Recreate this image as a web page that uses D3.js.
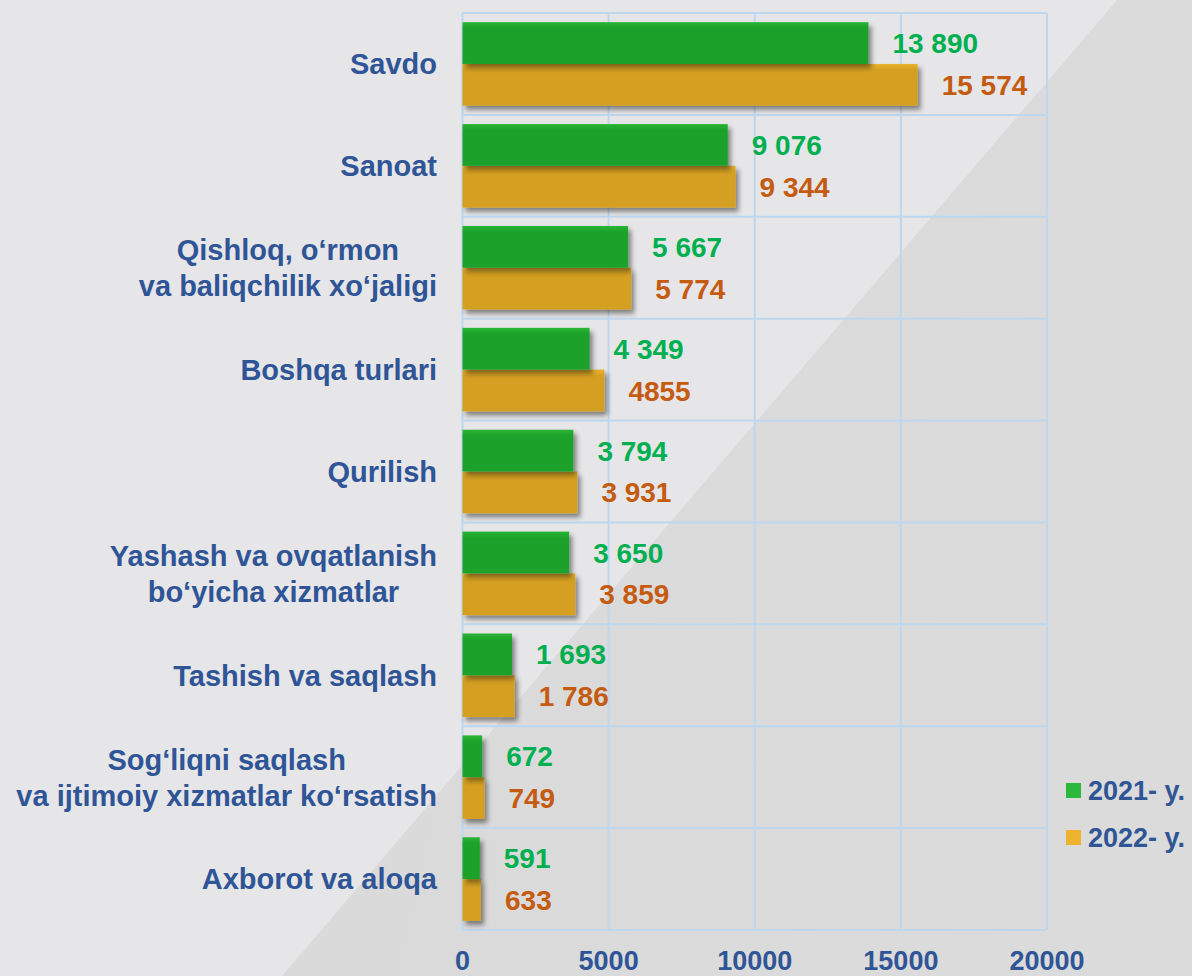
<!DOCTYPE html>
<html>
<head>
<meta charset="utf-8">
<script src="https://cdn.jsdelivr.net/npm/d3@7"></script>
<style>
  html, body { margin: 0; padding: 0; background: #e6e6e8; }
  svg { display: block; font-family: "Liberation Sans", Arial, sans-serif; font-weight: bold; }
</style>
</head>
<body>
<div id="chart"></div>
<script>
// categories, top to bottom (each entry = label lines)
var categories = [
    ["Savdo"],
    ["Sanoat"],
    ["Qishloq, o\u2018rmon", "va baliqchilik xo\u2018jaligi"],
    ["Boshqa turlari"],
    ["Qurilish"],
    ["Yashash va ovqatlanish", "bo\u2018yicha xizmatlar"],
    ["Tashish va saqlash"],
    ["Sog\u2018liqni saqlash", "va ijtimoiy xizmatlar ko\u2018rsatish"],
    ["Axborot va aloqa"]
];
var values2021 = [13890, 9076, 5667, 4349, 3794, 3650, 1693, 672, 591];
var values2022 = [15574, 9344, 5774, 4855, 3931, 3859, 1786, 749, 633];
// how the labels are written on the picture
var labels2021 = ["13 890", "9 076", "5 667", "4 349", "3 794", "3 650", "1 693", "672", "591"];
var labels2022 = ["15 574", "9 344", "5 774", "4855", "3 931", "3 859", "1 786", "749", "633"];
var seriesNames = ["2021- y.", "2022- y."];
var xTicks = [0, 5000, 10000, 15000, 20000];

var width = 1192, height = 976;
var blue = "#2f5597";
var gridColor = "#bdd7ee";

var svg = d3.select("#chart").append("svg")
    .attr("width", width)
    .attr("height", height);

var defs = svg.append("defs");

// background diagonal slab
var slab = defs.append("linearGradient").attr("id", "slab")
    .attr("x1", "0").attr("y1", "0").attr("x2", "1").attr("y2", "0.25");
slab.append("stop").attr("offset", "0").attr("stop-color", "#f0f0f2");
slab.append("stop").attr("offset", "0.03").attr("stop-color", "#dadada");
slab.append("stop").attr("offset", "1").attr("stop-color", "#dbdbdb");

var shadow = defs.append("filter").attr("id", "shadow")
    .attr("x", "-10%").attr("y", "-20%").attr("width", "130%").attr("height", "160%");
shadow.append("feDropShadow")
    .attr("dx", 3).attr("dy", 4).attr("stdDeviation", 2.5)
    .attr("flood-color", "#000").attr("flood-opacity", 0.45);

function barGrad(id, top, mid) {
    var g = defs.append("linearGradient").attr("id", id)
        .attr("x1", 0).attr("y1", 0).attr("x2", 0).attr("y2", 1);
    g.append("stop").attr("offset", "0").attr("stop-color", top);
    g.append("stop").attr("offset", "0.15").attr("stop-color", mid);
    g.append("stop").attr("offset", "1").attr("stop-color", mid);
}
barGrad("g2021", "#2bb536", "#1aa229");
barGrad("g2022", "#e9b330", "#d5a020");

svg.append("rect").attr("width", width).attr("height", height).attr("fill", "#e6e6e8");
svg.append("path")
    .attr("d", "M1117,0 L1192,0 L1192,976 L282,976 Z")
    .attr("fill", "url(#slab)");

// scales
var x = d3.scaleLinear()
    .domain([0, 20000])
    .range([462.5, 1047]);

var y = d3.scaleBand()
    .domain(d3.range(categories.length))
    .range([13, 930])
    .paddingInner(0.18)
    .paddingOuter(0.09);

var ySeries = d3.scaleBand()
    .domain([0, 1])
    .range([0, y.bandwidth()]);

// grid
var grid = svg.append("g");
grid.selectAll(".vline")
    .data(xTicks)
    .enter()
    .append("line")
    .attr("x1", function(d) { return x(d); })
    .attr("x2", function(d) { return x(d); })
    .attr("y1", y.range()[0])
    .attr("y2", y.range()[1])
    .attr("stroke", gridColor)
    .attr("stroke-width", 2);

grid.selectAll(".hline")
    .data(d3.range(categories.length + 1))
    .enter()
    .append("line")
    .attr("x1", x.range()[0])
    .attr("x2", x.range()[1])
    .attr("y1", function(i) { return y.range()[0] + i * y.step(); })
    .attr("y2", function(i) { return y.range()[0] + i * y.step(); })
    .attr("stroke", gridColor)
    .attr("stroke-width", 2);

// bars
var series = [values2021, values2022];
var seriesLabels = [labels2021, labels2022];
var fills = ["url(#g2021)", "url(#g2022)"];
var labelColors = ["#00b050", "#c55a11"];

// draw the 2022 bars first so the 2021 ones sit on their shadow
[1, 0].forEach(function(s) {
    svg.append("g")
        .attr("filter", "url(#shadow)")
        .selectAll("rect")
        .data(series[s])
        .enter()
        .append("rect")
        .attr("x", x(0))
        .attr("y", function(d, i) { return y(i) + ySeries(s); })
        .attr("width", function(d) { return x(d) - x(0); })
        .attr("height", ySeries.bandwidth())
        .attr("fill", fills[s]);
});

// value labels
[0, 1].forEach(function(s) {
    svg.append("g")
        .selectAll("text")
        .data(series[s])
        .enter()
        .append("text")
        .attr("x", function(d) { return x(d) + 24; })
        .attr("y", function(d, i) { return y(i) + ySeries(s) + ySeries.bandwidth() / 2; })
        .attr("dy", "0.36em")
        .attr("font-size", 28)
        .attr("fill", labelColors[s])
        .text(function(d, i) { return seriesLabels[s][i]; });
});

// category labels, block right aligned, lines centred
var lineGap = 36;
var catG = svg.append("g");
categories.forEach(function(lines, i) {
    var cy = y(i) + y.bandwidth() / 2;
    var t = catG.append("text")
        .attr("font-size", 29)
        .attr("fill", blue)
        .attr("text-anchor", "middle");
    lines.forEach(function(line, k) {
        t.append("tspan")
            .attr("y", cy + (k - (lines.length - 1) / 2) * lineGap)
            .attr("dy", "0.36em")
            .text(line);
    });
    var w = 0;
    t.selectAll("tspan").each(function() {
        w = Math.max(w, this.getComputedTextLength());
    });
    t.selectAll("tspan").attr("x", 437 - w / 2);
});

// x tick labels
svg.append("g")
    .selectAll("text")
    .data(xTicks)
    .enter()
    .append("text")
    .attr("x", function(d) { return x(d); })
    .attr("y", 970)
    .attr("text-anchor", "middle")
    .attr("font-size", 27)
    .attr("fill", blue)
    .text(function(d) { return d; });

// legend
var legendColors = ["#2cb83c", "#edb32f"];
var legend = svg.append("g")
    .selectAll("g")
    .data(seriesNames)
    .enter()
    .append("g")
    .attr("transform", function(d, i) { return "translate(1066," + (783 + i * 47) + ")"; });
legend.append("rect")
    .attr("width", 15)
    .attr("height", 15)
    .attr("fill", function(d, i) { return legendColors[i]; });
legend.append("text")
    .attr("x", 22)
    .attr("y", 17)
    .attr("font-size", 27)
    .attr("fill", blue)
    .text(function(d) { return d; });
</script>
</body>
</html>
